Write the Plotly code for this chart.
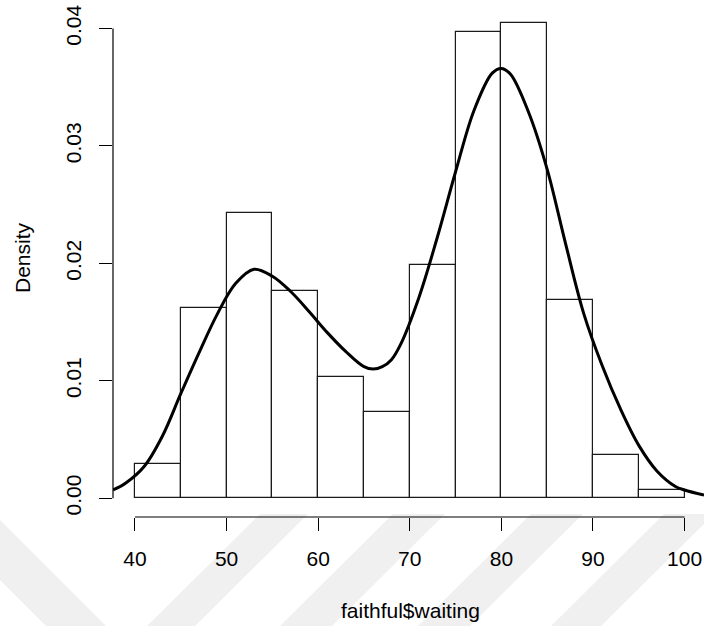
import plotly.graph_objects as go

# Histogram of waiting times (density scale), 5-minute bins from 40 to 100
bin_left = [40, 45, 50, 55, 60, 65, 70, 75, 80, 85, 90, 95]
bin_width = 5
bin_density = [0.00294, 0.01618, 0.02426, 0.01765, 0.01029, 0.00735,
               0.01985, 0.03971, 0.04044, 0.01691, 0.00368, 0.00074]

# Fitted density curve
curve_x = [37.6, 39, 41, 43, 45, 47, 49, 51, 53, 55, 57, 59, 61, 63, 65, 66,
           67, 68, 69, 71, 73, 75, 77, 79, 80, 81, 83, 85, 87, 89, 91, 93, 95,
           97, 99, 100, 102.12]
curve_y = [0.0007, 0.0013, 0.0027, 0.0053, 0.0089, 0.0124, 0.0157, 0.0183,
           0.0195, 0.0189, 0.0176, 0.0159, 0.0141, 0.0125, 0.0112, 0.0110,
           0.0112, 0.0118, 0.0131, 0.0171, 0.0222, 0.0278, 0.0330, 0.0362,
           0.0366, 0.0361, 0.0328, 0.0280, 0.0217, 0.0157, 0.0113, 0.0076,
           0.0045, 0.0023, 0.0010, 0.0007, 0.00026]

x_ticks = [40, 50, 60, 70, 80, 90, 100]
y_ticks = [0.00, 0.01, 0.02, 0.03, 0.04]
y_tick_text = ["0.00", "0.01", "0.02", "0.03", "0.04"]

W, H = 704, 626
M_L, M_R, M_T, M_B = 113, 0, 5, 109
X_RANGE = [37.6, 102.12]
Y_RANGE = [-0.0016, 0.042]
FONT = "Liberation Sans, Arial, Helvetica, sans-serif"
FS = 21

plot_w = W - M_L - M_R
plot_h = H - M_T - M_B


def px(x):
    return (x - M_L) / plot_w


def py(y):
    return (H - M_B - y) / plot_h


fig = go.Figure()

fig.add_trace(go.Bar(
    x=[b + bin_width / 2 for b in bin_left],
    y=bin_density,
    width=bin_width,
    marker=dict(color="white", line=dict(color="#1a1a1a", width=1.2)),
    hoverinfo="skip",
))

fig.add_trace(go.Scatter(
    x=curve_x, y=curve_y, mode="lines",
    line=dict(color="black", width=3, shape="spline", smoothing=1.0),
    hoverinfo="skip",
))

shapes = []
# faint diagonal background bands along the bottom edge
band_polys = [
    [(0, 520), (0, 580), (46, 626), (106, 626)],
    [(147, 626), (195, 626), (308, 514), (260, 514)],
    [(280, 626), (332, 626), (445, 514), (393, 514)],
    [(418, 626), (470, 626), (583, 514), (531, 514)],
    [(551, 626), (601, 626), (714, 514), (664, 514)],
]
for poly in band_polys:
    path = "M " + " L ".join(f"{px(a):.5f},{py(b):.5f}" for a, b in poly) + " Z"
    shapes.append(dict(type="path", xref="paper", yref="paper", path=path,
                       fillcolor="rgb(240,240,240)", line=dict(width=0),
                       layer="below"))

# R-style axis lines spanning only the tick range
shapes.append(dict(type="line", xref="x", yref="paper",
                   x0=x_ticks[0], x1=x_ticks[-1], y0=0, y1=0,
                   line=dict(color="black", width=1.2)))
shapes.append(dict(type="line", xref="paper", yref="y",
                   x0=0, x1=0, y0=y_ticks[0], y1=y_ticks[-1],
                   line=dict(color="black", width=1.2)))

fig.update_layout(
    width=W, height=H,
    margin=dict(l=M_L, r=M_R, t=M_T, b=M_B, pad=0),
    paper_bgcolor="white", plot_bgcolor="white",
    showlegend=False, bargap=0,
    font=dict(family=FONT, size=FS, color="black"),
    shapes=shapes,
    xaxis=dict(range=X_RANGE, showgrid=False, zeroline=False, showline=False,
               tickmode="array", tickvals=x_ticks,
               ticks="outside", ticklen=13, tickwidth=1.2, tickcolor="black",
               tickfont=dict(family=FONT, size=FS, color="black"),
               ticklabelstandoff=10, fixedrange=True),
    yaxis=dict(range=Y_RANGE, showgrid=False, zeroline=False, showline=False,
               tickmode="array", tickvals=y_ticks, ticktext=y_tick_text,
               tickangle=-90,
               ticks="outside", ticklen=13, tickwidth=1.2, tickcolor="black",
               tickfont=dict(family=FONT, size=FS, color="black"),
               ticklabelstandoff=10, fixedrange=True),
    annotations=[
        dict(text="faithful$waiting", xref="paper", yref="paper",
             x=px(410), y=py(610), xanchor="center", yanchor="middle",
             showarrow=False, font=dict(family=FONT, size=FS, color="black")),
        dict(text="Density", xref="paper", yref="paper",
             x=px(22), y=py(258), xanchor="center", yanchor="middle",
             textangle=-90, showarrow=False,
             font=dict(family=FONT, size=FS, color="black")),
    ],
)

fig.write_html("out.html")
